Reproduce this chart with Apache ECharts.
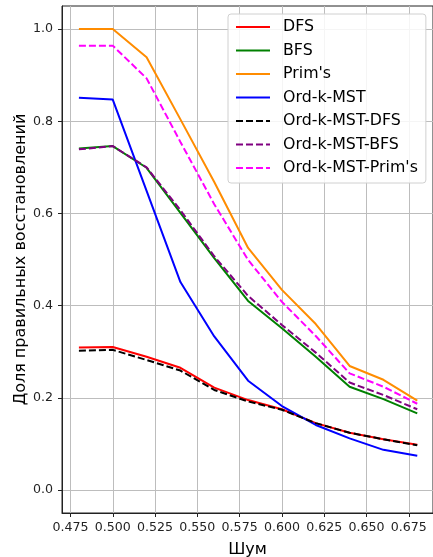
<!DOCTYPE html>
<html>
<head>
<meta charset="utf-8">
<script src="https://cdn.jsdelivr.net/npm/echarts@6/dist/echarts.min.js"></script>
<style>
  html, body { margin: 0; padding: 0; background: #fff; }
  #chart { width: 433px; height: 557px; }
</style>
</head>
<body>
<div id="chart"></div>
<script>
// noise levels (x) and accuracy for each method
const noise = [0.48, 0.50, 0.52, 0.54, 0.56, 0.58, 0.60, 0.62, 0.64, 0.66, 0.68]
const dfs = [0.309, 0.310, 0.289, 0.265, 0.222, 0.195, 0.175, 0.145, 0.124, 0.110, 0.098]
const bfs = [0.741, 0.746, 0.699, 0.601, 0.503, 0.410, 0.351, 0.289, 0.224, 0.197, 0.166]
const prims = [1.0, 1.0, 0.939, 0.804, 0.668, 0.525, 0.434, 0.360, 0.269, 0.239, 0.194]
const ordKMst = [0.851, 0.847, 0.649, 0.451, 0.333, 0.237, 0.182, 0.141, 0.112, 0.087, 0.074]
const ordKMstDfs = [0.302, 0.304, 0.282, 0.259, 0.217, 0.192, 0.174, 0.145, 0.124, 0.110, 0.097]
const ordKMstBfs = [0.739, 0.746, 0.700, 0.607, 0.507, 0.421, 0.358, 0.298, 0.233, 0.206, 0.175]
const ordKMstPrims = [0.964, 0.964, 0.893, 0.755, 0.620, 0.499, 0.408, 0.334, 0.253, 0.224, 0.187]

const xTicks = [0.475, 0.5, 0.525, 0.55, 0.575, 0.6, 0.625, 0.65, 0.675]
const yTicks = [0, 0.2, 0.4, 0.6, 0.8, 1.0]

const FONT = 'DejaVu Sans'

const pairs = (ys) => noise.map((x, i) => [x, ys[i]])

const line = (name, ys, color, dashed) => ({
  name,
  type: 'line',
  data: pairs(ys),
  symbol: 'none',
  smooth: false,
  lineStyle: { color, width: 2, type: dashed ? [7, 3] : 'solid' },
  itemStyle: { color },
  emphasis: { disabled: true },
})

const chart = echarts.init(document.getElementById('chart'), null, { renderer: 'canvas' })

chart.setOption({
  animation: false,
  textStyle: { fontFamily: FONT },
  grid: {
    left: 62,
    right: 0,
    top: 6,
    bottom: 44,
    outerBoundsMode: 'none',
    containLabel: false,
    show: true,
    borderColor: '#222',
    borderWidth: 1,
  },
  xAxis: {
    type: 'value',
    min: 0.47,
    max: 0.6893,
    name: 'Шум',
    nameLocation: 'middle',
    nameGap: 29,
    nameMoveOverlap: false,
    nameTextStyle: { fontFamily: FONT, fontSize: 16, color: '#000' },
    axisLine: { show: true, onZero: false, lineStyle: { color: '#222', width: 1 } },
    axisTick: { show: true, inside: false, length: 4, customValues: xTicks, lineStyle: { color: '#222' } },
    axisLabel: {
      customValues: xTicks,
      margin: 8,
      color: '#222',
      fontFamily: FONT,
      fontSize: 12.6,
      formatter: (v) => v.toFixed(3),
    },
    splitLine: { show: true, lineStyle: { color: '#bdbdbd', width: 1 } },
  },
  yAxis: {
    type: 'value',
    min: -0.05,
    max: 1.05,
    name: 'Доля правильных восстановлений',
    nameLocation: 'middle',
    nameGap: 33,
    nameMoveOverlap: false,
    nameTextStyle: { fontFamily: FONT, fontSize: 16, color: '#000' },
    axisLine: { show: true, onZero: false, lineStyle: { color: '#222', width: 1 } },
    axisTick: { show: true, inside: false, length: 4, customValues: yTicks, lineStyle: { color: '#222' } },
    axisLabel: {
      customValues: yTicks,
      margin: 9,
      color: '#222',
      fontFamily: FONT,
      fontSize: 12.6,
      formatter: (v) => v.toFixed(1),
    },
    splitLine: { show: true, lineStyle: { color: '#bdbdbd', width: 1 } },
  },
  legend: {
    orient: 'vertical',
    left: 228,
    top: 14,
    width: 197,
    padding: [4, 8, 6, 7],
    itemWidth: 34,
    itemHeight: 14,
    itemGap: 5.5,
    itemStyle: { opacity: 0 },
    backgroundColor: 'rgba(255,255,255,0.85)',
    borderColor: '#d0d0d0',
    borderWidth: 1,
    borderRadius: 3,
    textStyle: { fontFamily: FONT, fontSize: 15.8, color: '#000', lineHeight: 18, padding: [0, 0, 0, 8] },
    data: ['DFS', 'BFS', "Prim's", 'Ord-k-MST', 'Ord-k-MST-DFS', 'Ord-k-MST-BFS', "Ord-k-MST-Prim's"],
  },
  series: [
    line('DFS', dfs, '#ff0000', false),
    line('BFS', bfs, '#008000', false),
    line("Prim's", prims, '#ff8c00', false),
    line('Ord-k-MST', ordKMst, '#0000ff', false),
    line('Ord-k-MST-DFS', ordKMstDfs, '#000000', true),
    line('Ord-k-MST-BFS', ordKMstBfs, '#800080', true),
    line("Ord-k-MST-Prim's", ordKMstPrims, '#ff00ff', true),
  ],
})
</script>
</body>
</html>
